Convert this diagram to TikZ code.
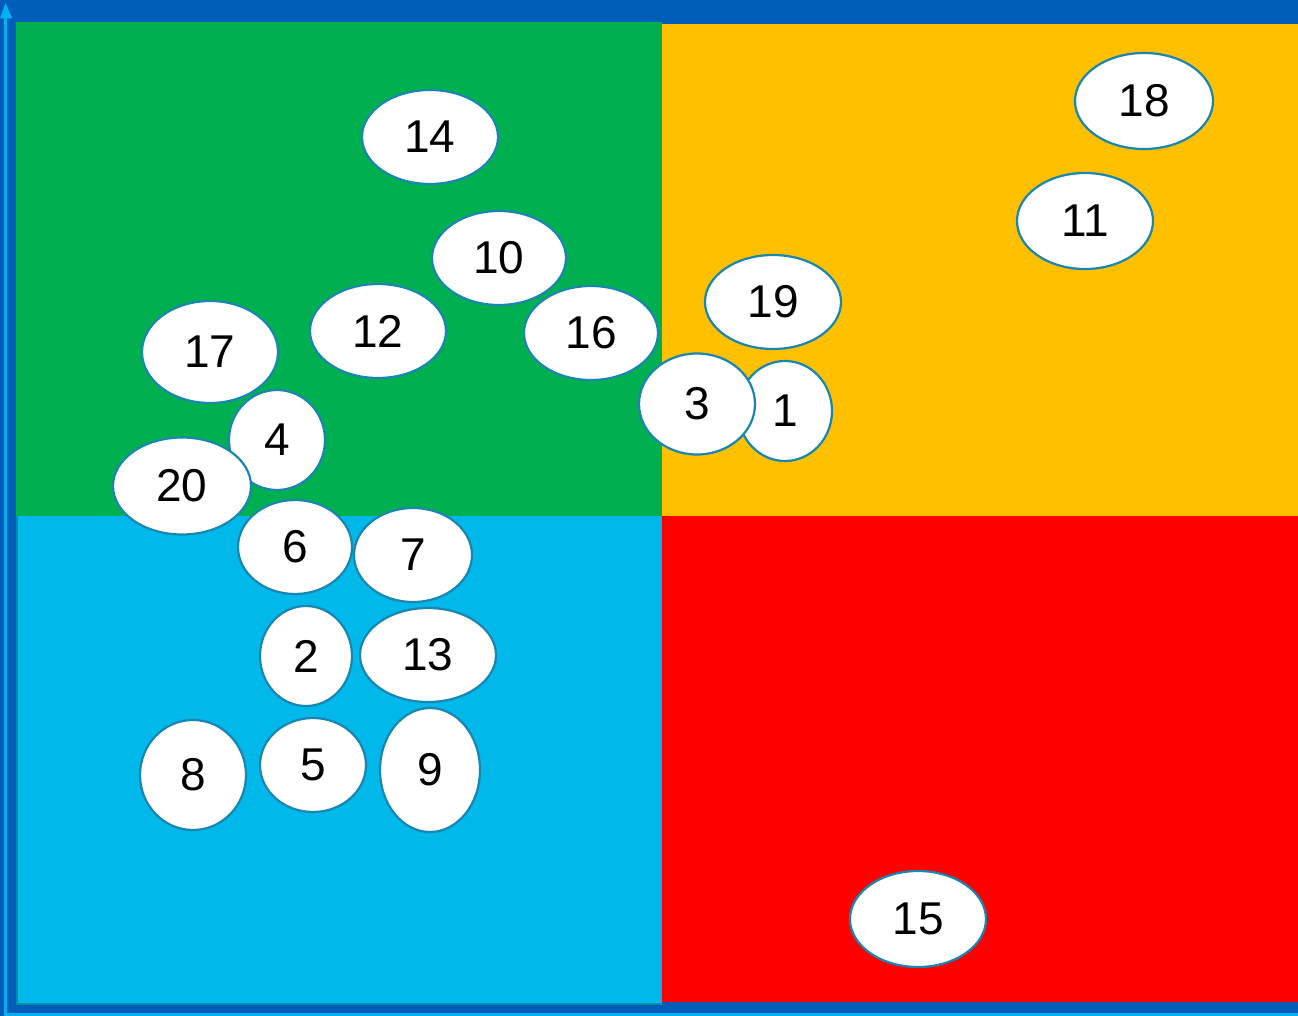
\documentclass[tikz,border=0pt]{standalone}
\usepackage{fontspec}
\setmainfont{Liberation Sans}
\usetikzlibrary{shapes.geometric}
\definecolor{frameblue}{RGB}{0,94,184}
\definecolor{axisblue}{RGB}{0,176,240}
\definecolor{qgreen}{RGB}{0,176,80}
\definecolor{qyellow}{RGB}{255,192,0}
\definecolor{qblue}{RGB}{0,184,234}
\definecolor{qred}{RGB}{255,0,0}
\definecolor{qedge}{RGB}{0,140,170}
\definecolor{ringc}{RGB}{24,134,176}
\tikzset{
  blob/.style={ellipse, draw=ringc, line width=2.2pt, fill=white, inner sep=0pt,
    font=\fontsize{46}{50}\selectfont},
}
\newcommand{\blob}[5]{\node[blob, minimum width=#3pt, minimum height=#4pt] (n#5) at (#1,#2) {\raisebox{-1.5pt}{#5}};}
\begin{document}
\begin{tikzpicture}[x=1pt,y=-1pt]
\useasboundingbox (0,0) rectangle (1298,1016);
\fill[frameblue] (0,0) rectangle (1298,1016);
% quadrants
\fill[qedge] (16,516) rectangle (662,1005);
\fill[qblue] (18,516) rectangle (662,1003);
\fill[qred] (662,516) rectangle (1298,1002);
\fill[qyellow] (662,24) rectangle (1298,516);
\fill[qgreen] (16,22) rectangle (662,516);
% axes
\fill[axisblue] (4,16) rectangle (6.5,1016);
\fill[axisblue] (4,1013) rectangle (1298,1016);
\fill[axisblue] (0,18.5) -- (5.5,3) -- (12.5,18.5) -- cycle;
% ellipses
\blob{430}{137}{136}{94}{14}
\blob{499}{258}{134}{94}{10}
\blob{591}{333}{134}{94}{16}
\blob{378}{331}{136}{94}{12}
\blob{210}{352}{136}{102}{17}
\blob{277}{440}{96}{100}{4}
\blob{182}{486}{138}{97}{20}
\blob{295}{547}{114}{94}{6}
\blob{413}{555}{118}{94}{7}
\blob{428}{655}{136}{94}{13}
\blob{306}{656}{92}{100}{2}
\blob{313}{765}{106}{94}{5}
\blob{430}{770}{100}{124}{9}
\blob{193}{775}{106}{110}{8}
\blob{1144}{101}{138}{96}{18}
\blob{1085}{221}{136}{96}{11}
\blob{773}{302}{136}{94}{19}
\blob{785}{411}{94}{100}{1}
\blob{697}{404}{116}{101}{3}
\blob{918}{919}{136}{96}{15}
\end{tikzpicture}
\end{document}
